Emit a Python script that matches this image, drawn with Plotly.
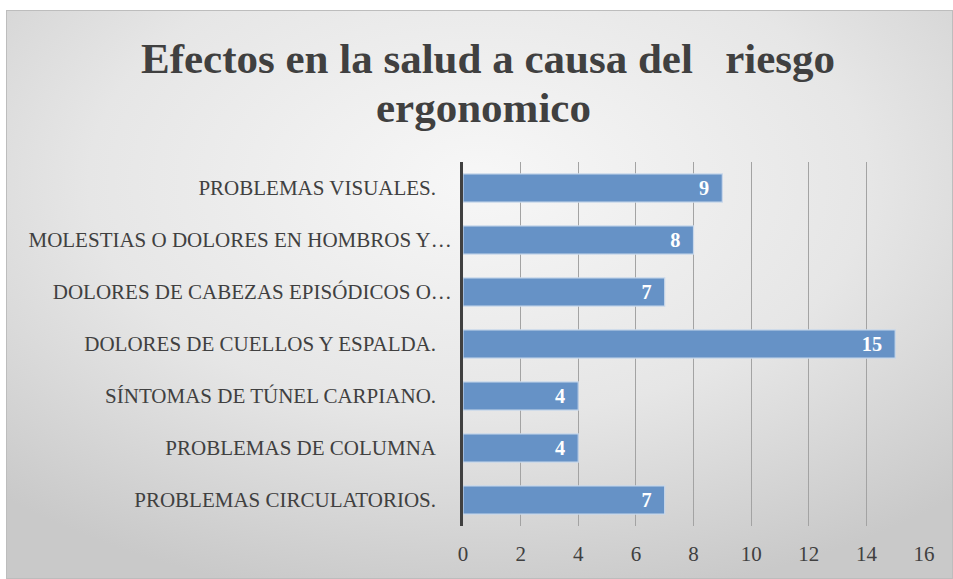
import base64
import plotly.graph_objects as go

categories = [
    "PROBLEMAS VISUALES.\u00a0\u00a0\u00a0",
    "MOLESTIAS O DOLORES EN HOMBROS Y…",
    "DOLORES DE CABEZAS EPISÓDICOS O…",
    "DOLORES DE CUELLOS Y ESPALDA.\u00a0\u00a0\u00a0",
    "SÍNTOMAS DE TÚNEL CARPIANO.\u00a0\u00a0\u00a0",
    "PROBLEMAS DE COLUMNA\u00a0\u00a0\u00a0",
    "PROBLEMAS CIRCULATORIOS.\u00a0\u00a0\u00a0",
]
values = [9, 8, 7, 15, 4, 4, 7]
x_ticks = [0, 2, 4, 6, 8, 10, 12, 14, 16]
title_line1 = "Efectos en la salud a causa del\u00a0\u00a0\u00a0riesgo"
title_line2 = "ergonomico"

W, H = 953, 579
L, R, T, B = 463, 29, 162, 53
PW, PH = W - L - R, H - T - B

svg = (
    "<svg xmlns='http://www.w3.org/2000/svg' width='947' height='569' viewBox='0 0 947 569'>"
    "<defs><radialGradient id='g' cx='0.5' cy='0.3' r='0.75'>"
    "<stop offset='0' stop-color='#f7f7f7'/>"
    "<stop offset='0.55' stop-color='#e6e6e6'/>"
    "<stop offset='1' stop-color='#c9c9c9'/>"
    "</radialGradient></defs>"
    "<rect width='947' height='569' fill='url(#g)'/>"
    "<rect x='0.5' y='0.5' width='946' height='568' fill='none' stroke='#bdbdbd' stroke-width='1'/>"
    "</svg>"
)
bg_src = "data:image/svg+xml;base64," + base64.b64encode(svg.encode()).decode()

title_font = dict(family="Liberation Serif", size=43, color="#404040", weight="bold")

fig = go.Figure()
fig.add_trace(go.Bar(
    y=categories,
    x=values,
    orientation="h",
    marker=dict(color="#6692c6", line=dict(color="#c8d7ea", width=1.2)),
    text=[str(v) + "\u00a0\u00a0" for v in values],
    textposition="inside",
    insidetextanchor="end",
    textangle=0,
    textfont=dict(family="Liberation Serif", size=23, color="white", weight="bold"),
    cliponaxis=False,
    hoverinfo="skip",
))

fig.add_layout_image(dict(
    source=bg_src,
    xref="paper", yref="paper",
    x=(6 - L) / PW, y=1 - (10 - T) / PH,
    sizex=(W - 6) / PW, sizey=(H - 10) / PH,
    xanchor="left", yanchor="top",
    sizing="stretch", layer="below",
))

fig.add_annotation(
    text=title_line2, showarrow=False,
    xref="paper", yref="paper",
    x=(483 - L) / PW, y=1 - (107 - T) / PH,
    xanchor="center", yanchor="middle",
    font=title_font,
)

fig.update_layout(
    width=W, height=H,
    margin=dict(l=L, r=R, t=T, b=B),
    paper_bgcolor="white",
    plot_bgcolor="rgba(0,0,0,0)",
    bargap=0.46,
    showlegend=False,
    title=dict(
        text=title_line1,
        x=488 / W, xanchor="center",
        y=1 - 58 / H, yanchor="middle", yref="container",
        font=title_font,
    ),
    xaxis=dict(
        range=[0, 16],
        tickvals=x_ticks,
        showgrid=True, gridcolor="#a3a3a3", gridwidth=1,
        zeroline=False, showline=False,
        ticks="", ticklabelstandoff=13,
        tickfont=dict(family="Liberation Serif", size=21, color="#404040"),
        fixedrange=True,
    ),
    yaxis=dict(
        autorange="reversed",
        showline=True, linecolor="#404040", linewidth=3,
        showgrid=False, ticks="", ticklabelstandoff=4,
        tickfont=dict(family="Liberation Serif", size=21, color="#404040"),
        fixedrange=True,
    ),
)

fig.write_html("out.html", config={"displayModeBar": False})
